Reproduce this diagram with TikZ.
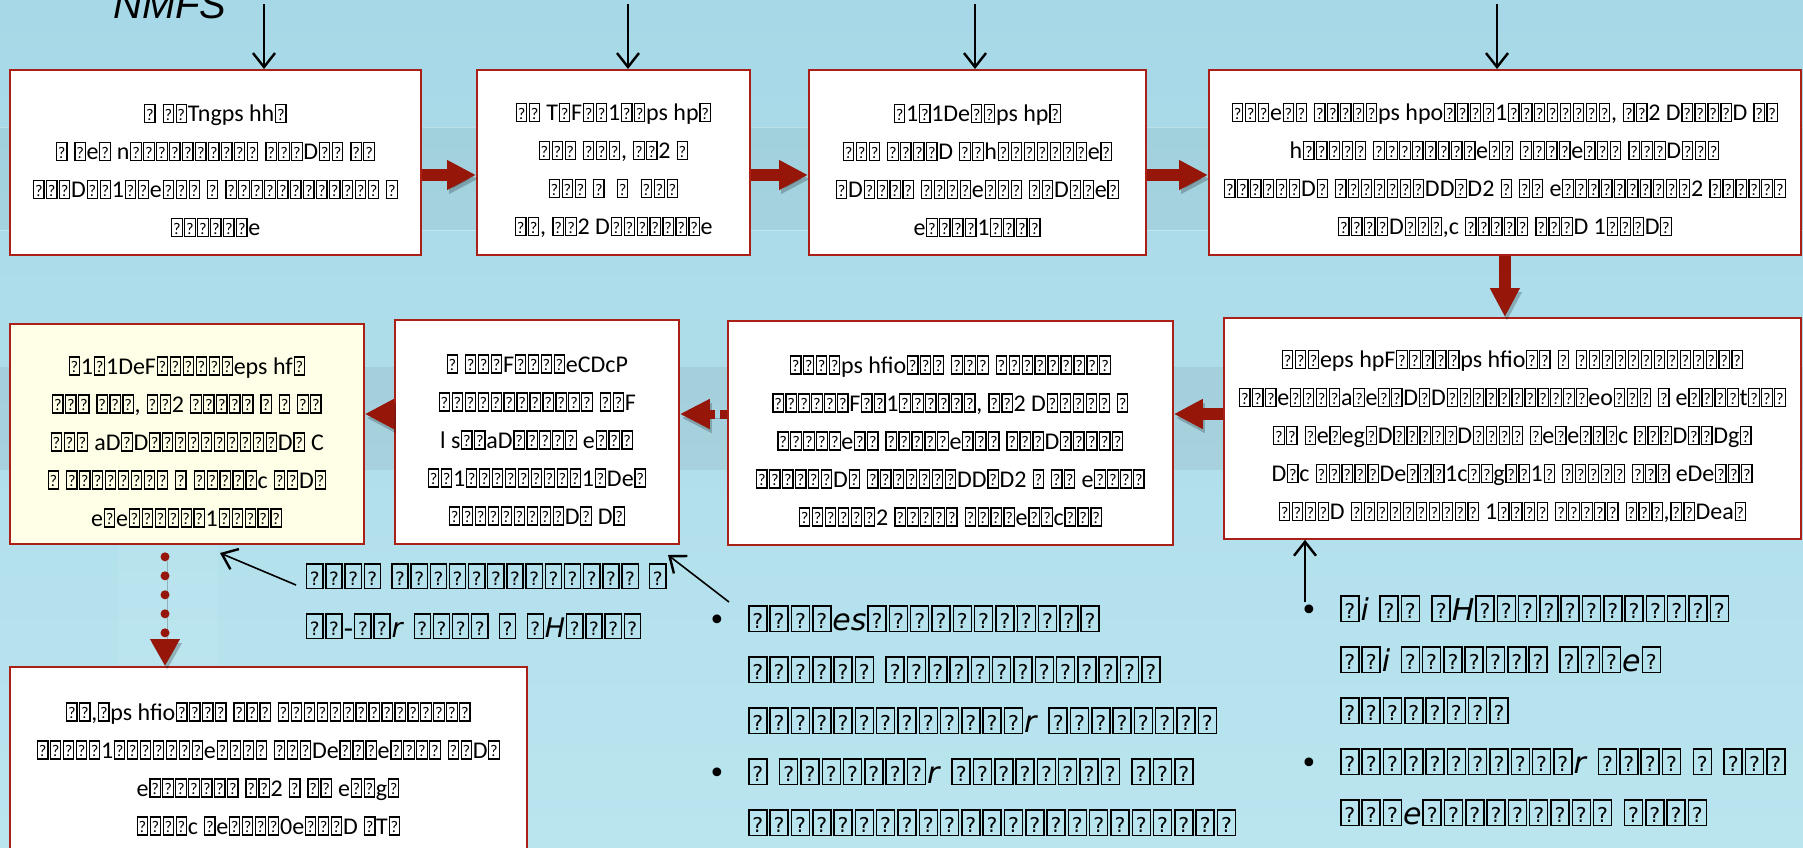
\documentclass[tikz,border=0pt]{standalone}
\usepackage{fontspec}
\usepackage{tikz}
\usetikzlibrary{shapes,arrows,arrows.meta,positioning}

\newfontfamily\boxfnt{Carlito}
\newfontfamily\notefnt{DejaVu Sans}
\newfontfamily\capfnt{Liberation Sans}

\definecolor{bgtop}{RGB}{166,216,231}
\definecolor{bgmid}{RGB}{100,172,201}
\definecolor{bgbot}{RGB}{186,229,239}
\definecolor{flowred}{RGB}{150,22,10}
\definecolor{edgered}{RGB}{170,32,22}
\definecolor{paleyel}{RGB}{255,255,232}

% missing glyph box
\newlength\tofuw
\newlength\tofuh
\newcommand\tofu{\kern0.03em\relax{\setlength\fboxsep{0pt}\setlength\fboxrule{0.05em}%
  \fbox{\makebox[\tofuw]{\rule{0pt}{\tofuh}\raisebox{0.1\tofuh}{\scalebox{0.68}{?}}}}}\kern0.03em\relax}
\begingroup\catcode`\?=\active\gdef?{\tofu}\endgroup

\newcommand\boxfont{\boxfnt\fontsize{24}{38}\selectfont\setlength\tofuw{0.38em}\setlength\tofuh{0.7em}}
\newcommand\notefont{\notefnt\fontsize{30}{51}\selectfont\setlength\tofuw{0.55em}\setlength\tofuh{0.8em}}
\newcommand\tagfont{\notefnt\fontsize{27}{50}\selectfont\setlength\tofuw{0.55em}\setlength\tofuh{0.85em}}
\newcommand\capfont{\capfnt\itshape\fontsize{40}{40}\selectfont}
\newcommand\bul{\makebox[39pt][l]{\textbullet}}
\newcommand\ind{\hspace*{39pt}}
\newcommand\lift{\rule{0pt}{34pt}}

\begin{document}
\catcode`\?=\active
\begin{tikzpicture}[x=1pt, y=-1pt]
    \tikzset{
        n/.style          =   { rectangle
                              , draw=edgered
                              , line width=1.8pt
                              , fill=white
                              , anchor=north west
                              , align=center
                              , inner sep=0pt
                              , font=\boxfont
        }
        , note/.style     =   { anchor=north west
                              , align=left
                              , inner sep=0pt
                              , font=\notefont
        }
        , shade/.style    =   { preaction={draw=black, opacity=.22
                              , transform canvas={shift={(2pt,-4pt)}}}
        }
        , flow/.style     =   { draw=flowred
                              , line width=12pt
                              , -{Triangle[length=29pt, width=28pt]}
        }
        , dashflow/.style =   { draw=flowred
                              , line width=9pt
                              , dash pattern=on 7pt off 5pt
                              , -{Triangle[length=30pt, width=28pt]}
        }
        , dotflow/.style  =   { draw=flowred
                              , line width=9pt
                              , line cap=round
                              , dash pattern=on 0pt off 19pt
                              , shorten <=12pt
                              , -{Triangle[length=27pt, width=28pt]}
        }
        , pointer/.style  =   { line width=1.6pt
                              , -{Straight Barb[length=14pt, width=22pt, line width=2.4pt]}
        }
    }
    \shade[top color=bgtop, middle color=bgmid, bottom color=bgbot] (0,0) rectangle (1803,847);
    \useasboundingbox (0,0) rectangle (1803,847);
    % faint bars behind the rows
    \fill[black, opacity=.04] (0,127) rectangle (1803,230);
    \draw[white, opacity=.3, line width=1pt] (0,127) -- (1803,127) (0,230) -- (1803,230);
    \fill[black, opacity=.06] (0,367) rectangle (1803,470);
    \fill[white, opacity=.08] (118,545) rectangle (218,665);

    \node(0)[anchor=base west, inner sep=0pt, font=\capfont] at (113,18) {NMFS};

    % top row
    \node(1)[n, minimum width=411pt, minimum height=185pt] at (9,69)
        {\lift? ??Tngps hh?\\ ? ?e? n?????????? ???D?? ??\\ ???D??1??e??? ? ???????????? ?\\ ??????e};
    \node(2)[n, minimum width=273pt, minimum height=185pt] at (476,69)
        {\lift?? T?F??1??ps hp?\\ ??? ???, ??2 ?\\ ??? ?~ ?~ ???\\ ??, ??2 D???????e};
    \node(3)[n, minimum width=337pt, minimum height=185pt] at (808,69)
        {\lift?1?1De??ps hp?\\ ??? ????D ??h???????e?\\ ?D???? ????e??? ??D??e?\\ e????1????};
    \node(4)[n, minimum width=592pt, minimum height=185pt] at (1208,69)
        {\lift???e?? ?????ps hpo????1????????, ??2 D????D ??\\ h????? ????????e?? ????e??? ???D???\\
         ??????D? ???????DD?D2 ? ?? e??????????2 ??????\\ ????D???,c ????? ???D 1???D?};

    % second row
    \node(5)[n, minimum width=577pt, minimum height=221pt] at (1223,317)
        {\lift???eps hpF?????ps hfio?? ? ?????????????\\ ???e????a?e??D?D???????????eo??? ? e????t???\\
         ?? ?e?eg?D?????D???? ?e?e???c ???D??Dg?\\ D?c ?????De???1c??g??1? ????? ??? eDe???\\
         ????D ?????????? 1???? ????? ???,??Dea?};
    \node(6)[n, minimum width=445pt, minimum height=224pt] at (727,320)
        {\lift????ps hfio??? ??? ?????????\\ ??????F??1??????, ??2 D????? ?\\ ?????e?? ?????e??? ???D?????\\
         ??????D? ???????DD?D2 ? ?? e????\\ ??????2 ????? ????e??c???};
    \node(7)[n, minimum width=284pt, minimum height=224pt] at (394,319)
        {\lift? ???F????eCDcP\\ ???????????? ??F\\ l s??aD????? e???\\ ??1?????????1?De?\\ ?????????D? D?};
    \node(8)[n, fill=paleyel, minimum width=354pt, minimum height=220pt] at (9,323)
        {\lift?1?1DeF??????eps hf?\\ ??? ???, ??2 ????? ? ? ??\\ ??? aD?D??????????D? C\\ ? ???????? ? ?????c ??D?\\ e?e??????1?????};
    \node(9)[n, minimum width=517pt, minimum height=204pt] at (9,666)
        {??,?ps hfio???? ??? ???????????????\\ ?????1???????e???? ???De???e???? ??D?\\ e??????? ??2 ? ?? e??g?\\ ????c ?e????0e???D ?T?};

    % notes
    \node(10)[note, font=\tagfont] at (305,563)
        {???? ????????????? ?\\ ??-??\textit{r} ???? ? ?\textit{H}????};
    \node(11)[note] at (708,605)
        {\bul ????\textit{es}???????????\\ \ind ?????? ?????????????\\ \ind ?????????????\textit{r} ????????\\
         \bul ? ???????\textit{r} ???????? ???\\ \ind ???????????????????????};
    \node(12)[note] at (1300,595)
        {\bul ?\textit{i} ?? ?\textit{H}????????????\\ \ind ??\textit{i} ??????? ???\textit{e}?\\ \ind ????????\\
         \bul ???????????\textit{r} ???? ? ???\\ \ind ???\textit{e}????????? ????};

    % flow
    \coordinate (r1) at (0,175);
    \coordinate (r2) at (0,414);
    \coordinate (d)  at (165,0);
    \draw[flow, shade] (1.east |- r1) -- (2.west |- r1);
    \draw[flow, shade] (2.east |- r1) -- (3.west |- r1);
    \draw[flow, shade] (3.east |- r1) -- (4.west |- r1);
    \draw[flow, shade] (4.south) -- (4.south |- 5.north);
    \draw[flow, shade] (5.west |- r2) -- (6.east |- r2);
    \draw[dashflow, shade] (6.west |- r2) -- (7.east |- r2);
    \draw[flow, shade] (7.west |- r2) -- (8.east |- r2);
    \draw[dotflow, shade] (8.south -| d) -- (9.north -| d);

    % inputs
    \coordinate (t1) at (264,4);
    \coordinate (t2) at (628,4);
    \coordinate (t3) at (975,4);
    \coordinate (t4) at (1497,4);
    \draw[pointer] (t1) -- (t1 |- 1.north);
    \draw[pointer] (t2) -- (t2 |- 2.north);
    \draw[pointer] (t3) -- (t3 |- 3.north);
    \draw[pointer] (t4) -- (t4 |- 4.north);

    % note pointers
    \coordinate (p1) at (296,585);
    \coordinate (q1) at (220,553);
    \coordinate (p2) at (729,602);
    \coordinate (q2) at (668,555);
    \coordinate (p3) at (1305,602);
    \draw[pointer] (p1) -- (q1);
    \draw[pointer] (p2) -- (q2);
    \draw[pointer] (p3) -- (p3 |- 5.south);
\end{tikzpicture}
\end{document}
